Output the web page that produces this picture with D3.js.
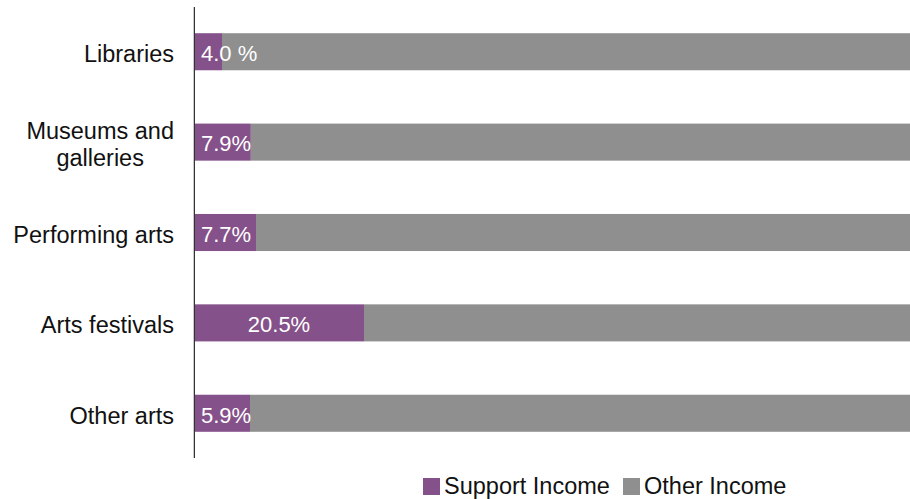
<!DOCTYPE html>
<html>
<head>
<meta charset="utf-8">
<script src="https://cdn.jsdelivr.net/npm/d3@7"></script>
<style>
  html, body { margin: 0; padding: 0; background: #fff; }
  svg { display: block; font-family: "Liberation Sans", Arial, Helvetica, sans-serif; }
</style>
</head>
<body>
<svg id="chart" width="910" height="499"></svg>
<script>
// ---- data ----
const categories = ["Libraries", "Museums and galleries", "Performing arts", "Arts festivals", "Other arts"];
const categoryLines = [["Libraries"], ["Museums and", "galleries"], ["Performing arts"], ["Arts festivals"], ["Other arts"]];
const supportIncome = [3.5, 7.1, 7.75, 21.25, 7.0];      // bar lengths as drawn (% share)
const otherIncome = supportIncome.map(v => 100 - v);
const supportLabels = ["4.0 %", "7.9%", "7.7%", "20.5%", "5.9%"];
const seriesNames = ["Support Income", "Other Income"];
const seriesColors = ["#85518a", "#8e8f8e"];

// ---- layout ----
const svg = d3.select("#chart");
const axisX = 194;
const x = d3.scaleLinear().domain([0, 100]).range([axisX, axisX + 800]);
const y = d3.scaleBand().domain(categories).range([7, 458]).paddingInner(0.59).paddingOuter(0.29);

const rows = categories.map((c, i) => ({ cat: c, lines: categoryLines[i], s: supportIncome[i], o: otherIncome[i], label: supportLabels[i] }));

const g = svg.append("g");
// other income (behind)
g.selectAll("rect.other").data(rows).join("rect")
  .attr("class", "other")
  .attr("x", d => x(d.s))
  .attr("y", d => y(d.cat))
  .attr("width", d => x(d.s + d.o) - x(d.s))
  .attr("height", y.bandwidth())
  .attr("fill", seriesColors[1]);
// support income
g.selectAll("rect.support").data(rows).join("rect")
  .attr("class", "support")
  .attr("x", x(0))
  .attr("y", d => y(d.cat))
  .attr("width", d => x(d.s) - x(0))
  .attr("height", y.bandwidth())
  .attr("fill", seriesColors[0]);

// data labels
g.selectAll("text.dl").data(rows).join("text")
  .attr("class", "dl")
  .attr("font-size", 22)
  .attr("fill", "#ffffff")
  .attr("y", d => y(d.cat) + y.bandwidth() / 2)
  .attr("dy", "0.42em")
  .text(d => d.label)
  .each(function(d) {
    const w = this.getComputedTextLength();
    const cx = (x(0) + x(d.s)) / 2;
    const left = Math.max(x(0) + 7, cx - w / 2);
    d3.select(this).attr("x", left).attr("text-anchor", "start");
  });

// axis line
svg.append("line")
  .attr("x1", axisX - 0.5).attr("x2", axisX - 0.5)
  .attr("y1", 7).attr("y2", 458)
  .attr("stroke", "#c8c8c8").attr("stroke-width", 1);
svg.append("line")
  .attr("x1", axisX + 0.5).attr("x2", axisX + 0.5)
  .attr("y1", 7).attr("y2", 458)
  .attr("stroke", "#333333").attr("stroke-width", 1);

// category labels
const labelRight = 174;
const lineH = 27;
rows.forEach(d => {
  const t = svg.append("text")
    .attr("font-size", 23.5)
    .attr("fill", "#111");
  const n = d.lines.length;
  const cy = y(d.cat) + y.bandwidth() / 2;
  const spans = d.lines.map((ln, k) => t.append("tspan")
    .attr("y", cy + (k - (n - 1) / 2) * lineH)
    .attr("dy", "0.45em")
    .text(ln));
  if (n === 1) {
    spans[0].attr("x", labelRight).attr("text-anchor", "end");
  } else {
    const maxW = d3.max(spans, s => s.node().getComputedTextLength());
    const c = labelRight - maxW / 2;
    spans.forEach(s => s.attr("x", c).attr("text-anchor", "middle"));
  }
});

// legend
const legend = svg.append("g").attr("font-size", 23.5);
const legStarts = [423, 623];
seriesNames.forEach((nm, i) => {
  legend.append("rect")
    .attr("x", legStarts[i]).attr("y", 478)
    .attr("width", 17).attr("height", 17)
    .attr("fill", seriesColors[i]);
  legend.append("text")
    .attr("x", legStarts[i] + 21).attr("y", 494)
    .attr("fill", "#111")
    .text(nm);
});
</script>
</body>
</html>
